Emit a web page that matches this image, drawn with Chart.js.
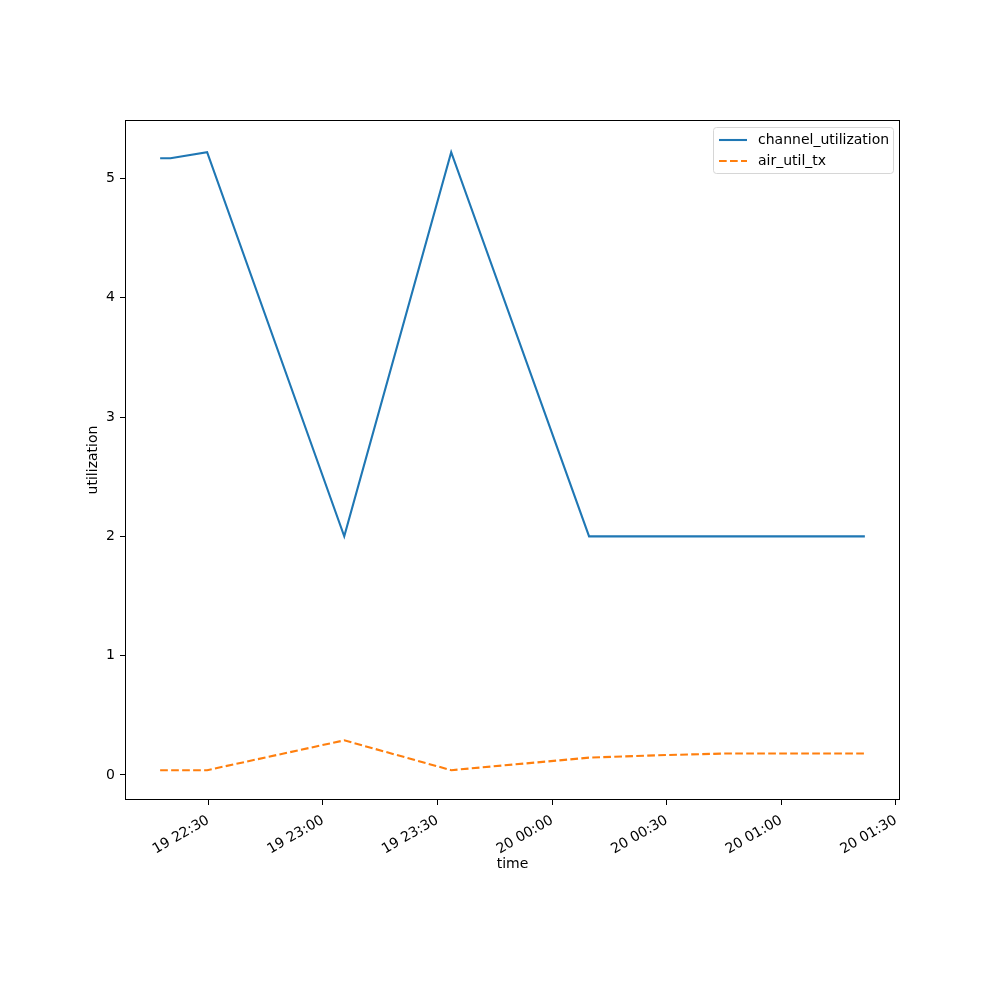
<!DOCTYPE html>
<html>
<head>
<meta charset="utf-8">
<script src="https://cdn.jsdelivr.net/npm/chart.js@4/dist/chart.umd.min.js"></script>
<style>
  html, body { margin: 0; padding: 0; background: #fff; }
  #wrap { width: 1000px; height: 1000px; }
</style>
</head>
<body>
<div id="wrap"><canvas id="utilChart" width="1000" height="1000"></canvas></div>
<script>
// sample times, minutes after 19 22:00
var times = [17.4, 20.1, 29.7, 65.6, 93.6, 129.7, 147.7, 165.8, 183.8, 201.9];
var channelUtil = [5.17, 5.17, 5.22, 2.0, 5.22, 2.0, 2.0, 2.0, 2.0, 2.0];
var airUtilTx = [0.04, 0.04, 0.04, 0.29, 0.04, 0.145, 0.165, 0.18, 0.18, 0.18];

var xTicks = [30, 60, 90, 120, 150, 180, 210];
var xTickLabels = ['19 22:30', '19 23:00', '19 23:30', '20 00:00', '20 00:30', '20 01:00', '20 01:30'];
var yTicks = [0, 1, 2, 3, 4, 5];

var FONT = 'DejaVu Sans';

function toPoints(vals) {
	var pts = [];
	for (var i = 0; i < times.length; i++) {
		pts.push({x: times[i], y: vals[i]});
	}
	return pts;
}

// frame, legend and axis titles
var decorPlugin = {
	id: 'decor',
	afterDraw: function(chart) {
		var ctx = chart.ctx;
		var a = chart.chartArea;
		ctx.save();
		ctx.strokeStyle = '#000';
		ctx.lineWidth = 1;
		ctx.strokeRect(a.left + 0.5, a.top + 0.5, a.right - a.left - 1, a.bottom - a.top - 1);

		ctx.fillStyle = '#000';
		ctx.font = '14px "' + FONT + '"';
		ctx.textAlign = 'center';
		ctx.textBaseline = 'middle';
		ctx.fillText('time', (a.left + a.right) / 2, 864);
		ctx.translate(93, (a.top + a.bottom) / 2);
		ctx.rotate(-Math.PI / 2);
		ctx.fillText('utilization', 0, 0);
		ctx.restore();

		// legend
		ctx.save();
		var lx = 713, ly = 127, lw = 180, lh = 46;
		ctx.fillStyle = 'rgba(255,255,255,0.8)';
		ctx.strokeStyle = '#d6d6d6';
		ctx.lineWidth = 1;
		ctx.beginPath();
		ctx.roundRect(lx + 0.5, ly + 0.5, lw, lh, 3);
		ctx.fill();
		ctx.stroke();
		var ds = chart.data.datasets;
		for (var i = 0; i < ds.length; i++) {
			var yy = ly + 13 + i * 21;
			ctx.strokeStyle = ds[i].borderColor;
			ctx.lineWidth = ds[i].borderWidth;
			ctx.setLineDash(ds[i].borderDash || []);
			ctx.beginPath();
			ctx.moveTo(lx + 6, yy);
			ctx.lineTo(lx + 34, yy);
			ctx.stroke();
			ctx.setLineDash([]);
			ctx.fillStyle = '#000';
			ctx.font = '14px "' + FONT + '"';
			ctx.textAlign = 'left';
			ctx.textBaseline = 'middle';
			ctx.fillText(ds[i].label, lx + 45, yy);
		}
		ctx.restore();
	}
};

var ctx = document.getElementById('utilChart').getContext('2d');

new Chart(ctx, {
	type: 'line',
	data: {
		datasets: [
			{
				label: 'channel_utilization',
				data: toPoints(channelUtil),
				borderColor: '#1f77b4',
				backgroundColor: '#1f77b4',
				borderWidth: 2.1,
				pointRadius: 0,
				fill: false,
				tension: 0
			},
			{
				label: 'air_util_tx',
				data: toPoints(airUtilTx),
				borderColor: '#ff7f0e',
				backgroundColor: '#ff7f0e',
				borderWidth: 2.1,
				borderDash: [7.7, 3.3],
				pointRadius: 0,
				fill: false,
				tension: 0
			}
		]
	},
	options: {
		responsive: false,
		animation: false,
		devicePixelRatio: 1,
		layout: {padding: {left: 0, top: 120, right: 100, bottom: 0}},
		plugins: {
			legend: {display: false},
			tooltip: {enabled: false}
		},
		scales: {
			x: {
				type: 'linear',
				min: 8.2,
				max: 211.1,
				afterFit: function(scale) { scale.height = 200; },
				afterBuildTicks: function(scale) {
					scale.ticks = xTicks.map(function(v) { return {value: v}; });
				},
				grid: {display: true, drawOnChartArea: false, tickLength: 5, color: '#000', tickWidth: 1},
				border: {display: false},
				ticks: {
					color: '#000',
					font: {family: FONT, size: 14},
					minRotation: 30,
					maxRotation: 30,
					padding: 7,
					autoSkip: false,
					callback: function(v) {
						var i = xTicks.indexOf(v);
						return i >= 0 ? xTickLabels[i] : '';
					}
				}
			},
			y: {
				min: -0.21,
				max: 5.49,
				afterFit: function(scale) { scale.width = 125; },
				afterBuildTicks: function(scale) {
					scale.ticks = yTicks.map(function(v) { return {value: v}; });
				},
				grid: {display: true, drawOnChartArea: false, tickLength: 5, color: '#000', tickWidth: 1},
				border: {display: false},
				ticks: {
					color: '#000',
					font: {family: FONT, size: 14},
					padding: 5,
					callback: function(v) { return String(v); }
				}
			}
		}
	},
	plugins: [decorPlugin]
});
</script>
</body>
</html>
